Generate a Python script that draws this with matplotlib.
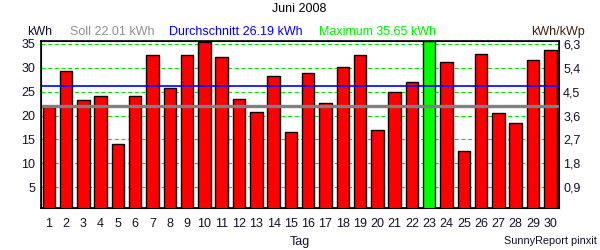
import numpy as np
import matplotlib
matplotlib.use("Agg")
import matplotlib.pyplot as plt
from matplotlib.ticker import FixedLocator, FuncFormatter

plt.rcParams['font.family'] = ['Liberation Sans', 'DejaVu Sans']

days = list(range(1, 31))
kwh = [21.7, 29.4, 23.3, 24.0, 14.0, 24.2, 32.7, 25.8, 32.7, 35.5,
       32.3, 23.5, 20.7, 28.2, 16.5, 29.0, 22.7, 30.2, 32.6, 16.9,
       24.9, 27.1, 35.65, 31.25, 12.5, 32.9, 20.5, 18.4, 31.7, 33.75]
soll = 22.01
mittel = 26.19
maximum = 35.65
kwp_faktor = 0.18
left_ticks = [5, 10, 15, 20, 25, 30, 35]

fig = plt.figure(figsize=(6, 2.5), dpi=100)
ax = fig.add_axes([0.0683, 0.1668, 0.8633, 0.671])

colors = ['#00ff00' if v == maximum else '#ff0000' for v in kwh]
ax.bar(days, kwh, width=0.72, color=colors, edgecolor='black', linewidth=1, zorder=3)

for t in left_ticks:
    ax.axhline(t, color='#00e000', linestyle=(0, (3.5, 2.5)), linewidth=0.8, zorder=1)
ax.axhline(soll, color='#808080', linewidth=2.4, zorder=4)
ax.axhline(mittel, color='#0000ff', linewidth=1.2, zorder=4)

ax.set_xlim(0.55, 30.5)
ax.set_ylim(0.6, 35.7)
ax.set_xticks(days)
ax.set_yticks(left_ticks)
ax.tick_params(length=0, labelsize=9, colors='#101030')
ax.tick_params(axis='x', pad=7)
ax.tick_params(axis='y', pad=4)
for s in ax.spines.values():
    s.set_linewidth(1.2)

ax2 = ax.twinx()
ax2.set_ylim(0.6 * kwp_faktor, 35.7 * kwp_faktor)
ax2.yaxis.set_major_locator(FixedLocator([t * kwp_faktor for t in left_ticks]))
ax2.yaxis.set_major_formatter(FuncFormatter(lambda v, p: ('%.1f' % v).replace('.', ',')))
ax2.tick_params(length=0, labelsize=9, colors='#101030', pad=3)

fig.text(0.498, 0.965, 'Juni 2008', ha='center', va='center', fontsize=9, color='black')
fig.text(0.045, 0.873, 'kWh', ha='left', va='center', fontsize=9, color='#101030')
fig.text(0.117, 0.873, 'Soll %.2f kWh' % soll, ha='left', va='center', fontsize=9, color='#909090')
fig.text(0.282, 0.873, 'Durchschnitt %.2f kWh' % mittel, ha='left', va='center', fontsize=9, color='#0000ff')
fig.text(0.532, 0.873, 'Maximum %.2f kWh' % maximum, ha='left', va='center', fontsize=9, color='#00ee00')
fig.text(0.886, 0.873, 'kWh/kWp', ha='left', va='center', fontsize=9, color='#402010')
fig.text(0.5, 0.03, 'Tag', ha='center', va='center', fontsize=9, color='#101030')
fig.text(0.995, 0.035, 'SunnyReport pinxit', ha='right', va='center', fontsize=7.8, color='#101030')

fig.savefig('out.png', dpi=100)
